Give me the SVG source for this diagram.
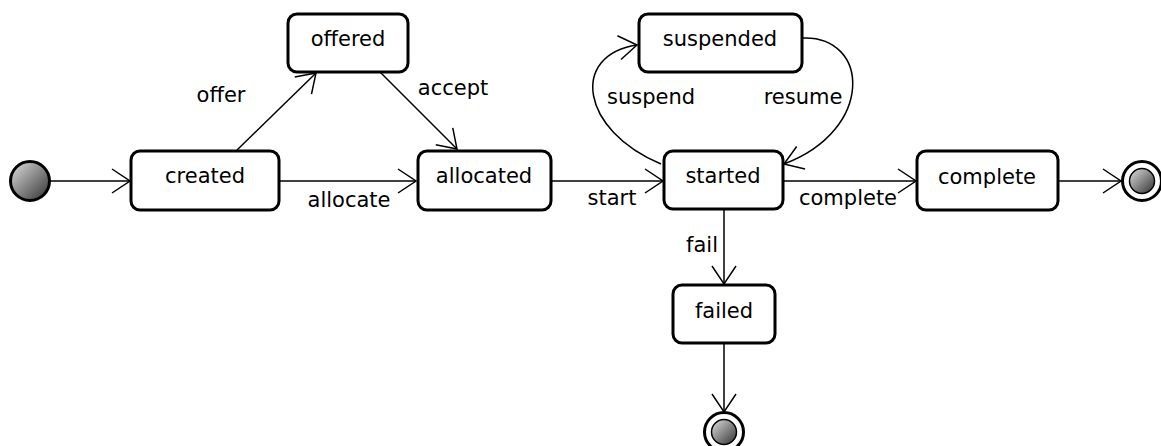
<svg xmlns="http://www.w3.org/2000/svg" width="1161" height="446" viewBox="0 0 1161 446">
<defs>
<style>
.node{fill:#fff;stroke:#000;stroke-width:3}
.t{font-family:"DejaVu Sans",sans-serif;font-size:21px;fill:#000;text-anchor:middle}
.e{fill:none;stroke:#000;stroke-width:1.5}
.ring{fill:#fff;stroke:#000;stroke-width:3}
</style>
<linearGradient id="g" x1="0" y1="0" x2="1" y2="1">
<stop offset="0" stop-color="#e0e0e0"/>
<stop offset="1" stop-color="#303030"/>
</linearGradient>
<marker id="a" markerUnits="userSpaceOnUse" markerWidth="22" markerHeight="26" refX="19" refY="12" orient="auto" overflow="visible">
<path d="M1,0 L19,12 L1,24" fill="none" stroke="#000" stroke-width="1.5"/>
</marker>
</defs>
<g id="connectors">
<line class="e" x1="51" y1="181" x2="130" y2="181" marker-end="url(#a)"/>
<line class="e" x1="237" y1="150" x2="316" y2="73" marker-end="url(#a)"/>
<line class="e" x1="380" y1="72" x2="457" y2="149" marker-end="url(#a)"/>
<line class="e" x1="279" y1="181" x2="416" y2="181" marker-end="url(#a)"/>
<line class="e" x1="551" y1="181" x2="663" y2="181" marker-end="url(#a)"/>
<path class="e" d="M661,164 C580,130 570,55 637,45" marker-end="url(#a)"/>
<path class="e" d="M802,38 C870,35 875,130 784,164" marker-end="url(#a)"/>
<line class="e" x1="783" y1="181" x2="916" y2="181" marker-end="url(#a)"/>
<line class="e" x1="1058" y1="181" x2="1121" y2="181" marker-end="url(#a)"/>
<line class="e" x1="724" y1="210" x2="724" y2="284" marker-end="url(#a)"/>
<line class="e" x1="724" y1="343" x2="724" y2="412" marker-end="url(#a)"/>
<text class="t" x="221" y="102">offer</text>
<text class="t" x="453" y="95">accept</text>
<text class="t" x="349" y="207">allocate</text>
<text class="t" x="612" y="205">start</text>
<text class="t" x="651" y="104">suspend</text>
<text class="t" x="803" y="104">resume</text>
<text class="t" x="848" y="205">complete</text>
<text class="t" x="702" y="252">fail</text>
</g>
<g id="initial">
<circle cx="30" cy="181" r="19.5" fill="url(#g)" stroke="#000" stroke-width="3"/>
</g>
<g id="created">
<rect class="node" x="131" y="151" width="148" height="59" rx="9"/>
<text class="t" x="205" y="183">created</text>
</g>
<g id="offered">
<rect class="node" x="288" y="14" width="120" height="58" rx="9"/>
<text class="t" x="348" y="46">offered</text>
</g>
<g id="allocated">
<rect class="node" x="418" y="151" width="133" height="59" rx="9"/>
<text class="t" x="484" y="183">allocated</text>
</g>
<g id="suspended">
<rect class="node" x="639" y="14" width="163" height="58" rx="9"/>
<text class="t" x="720" y="46">suspended</text>
</g>
<g id="started">
<rect class="node" x="664" y="151" width="119" height="58" rx="9"/>
<text class="t" x="723" y="183">started</text>
</g>
<g id="complete">
<rect class="node" x="917" y="151" width="141" height="59" rx="9"/>
<text class="t" x="987" y="184">complete</text>
</g>
<g id="failed">
<rect class="node" x="673" y="285" width="102" height="58" rx="9"/>
<text class="t" x="724" y="318">failed</text>
</g>
<g id="final1">
<circle class="ring" cx="1142" cy="181" r="19.5"/>
<circle cx="1142" cy="181" r="12.5" fill="url(#g)" stroke="#000" stroke-width="1.5"/>
</g>
<g id="final2">
<circle class="ring" cx="724" cy="432" r="19.5"/>
<circle cx="724" cy="432" r="12.5" fill="url(#g)" stroke="#000" stroke-width="1.5"/>
</g>
</svg>
